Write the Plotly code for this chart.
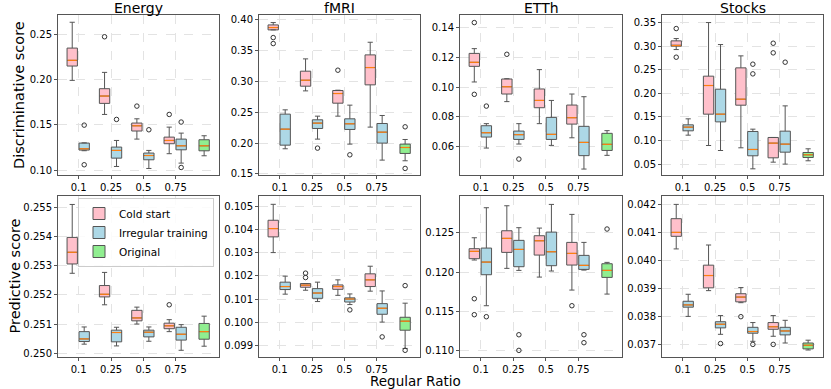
"""Box plots of discriminative / predictive scores vs. regular ratio."""

import plotly.graph_objects as go
from plotly.subplots import make_subplots

# ---- data (box stats: lower whisker, q1, median, q3, upper whisker) ----
ratios = ["0.1", "0.25", "0.5", "0.75"]
datasets = ["Energy", "fMRI", "ETTh", "Stocks"]
methods = ["Cold start", "Irregular training", "Original"]

# Discriminative score
energy_disc_cold = [(0.1989, 0.2147, 0.221, 0.2345, 0.263), (0.1613, 0.1735, 0.1816, 0.1897, 0.2077),
                    (0.1341, 0.143, 0.1488, 0.1518, 0.1565), (0.118, 0.129, 0.1326, 0.1363, 0.1473)]
energy_disc_cold_out = [[], [0.247], [0.1705], [0.1613]]
energy_disc_irr = [(0.1213, 0.122, 0.1234, 0.1297, 0.130), (0.1039, 0.1131, 0.1216, 0.1253, 0.1326),
                   (0.1017, 0.1113, 0.116, 0.1187, 0.1216), (0.1076, 0.1223, 0.1267, 0.1341, 0.1407)]
energy_disc_irr_out = [[0.1495, 0.1058], [0.1558], [0.1444], [0.1529, 0.1028]]
energy_disc_orig = (0.1157, 0.1212, 0.1267, 0.1334, 0.1378)
energy_disc_orig_out = []

fmri_disc_cold = [(0.3838, 0.3838, 0.3876, 0.3919, 0.3957), (0.2847, 0.2923, 0.302, 0.3167, 0.3367),
                  (0.2436, 0.2647, 0.2804, 0.2853, 0.2858), (0.2258, 0.2945, 0.3226, 0.3432, 0.3637)]
fmri_disc_cold_out = [[0.3713, 0.3616], [], [0.3183], []]
fmri_disc_irr = [(0.1906, 0.1965, 0.2225, 0.2469, 0.2539), (0.2063, 0.2236, 0.2323, 0.2377, 0.2436),
                 (0.1982, 0.222, 0.2312, 0.2393, 0.2615), (0.1722, 0.1998, 0.2176, 0.2317, 0.2447)]
fmri_disc_irr_out = [[], [0.1917], [0.1808], []]
fmri_disc_orig = (0.1711, 0.183, 0.1927, 0.1982, 0.2057)
fmri_disc_orig_out = [0.2263, 0.1587]

etth_disc_cold = [(0.1035, 0.114, 0.1167, 0.1227, 0.1259), (0.0903, 0.0954, 0.1003, 0.1055, 0.1057),
                  (0.0755, 0.0862, 0.0911, 0.0988, 0.1118), (0.066, 0.0752, 0.0795, 0.088, 0.0954)]
etth_disc_cold_out = [[0.1434, 0.0952], [0.1221], [], []]
etth_disc_irr = [(0.0591, 0.0665, 0.0694, 0.0741, 0.0755), (0.0618, 0.0649, 0.0681, 0.0705, 0.0755),
                 (0.0609, 0.0649, 0.0683, 0.0797, 0.0911), (0.045, 0.054, 0.0629, 0.0737, 0.0936)]
etth_disc_irr_out = [[0.0873], [0.0517], [], []]
etth_disc_orig = (0.0542, 0.0575, 0.0616, 0.069, 0.0708)
etth_disc_orig_out = []

stocks_disc_cold = [(0.2928, 0.2999, 0.3013, 0.3112, 0.3161), (0.0895, 0.1559, 0.2166, 0.2364, 0.35),
                    (0.0846, 0.1749, 0.1876, 0.254, 0.2794), (0.0542, 0.0634, 0.0945, 0.1065, 0.1065)]
stocks_disc_cold_out = [[0.3373, 0.2766], [], [], [0.3062, 0.2858]]
stocks_disc_irr = [(0.1114, 0.1206, 0.1284, 0.1333, 0.146), (0.0789, 0.1396, 0.1559, 0.2088, 0.3034),
                   (0.0401, 0.0677, 0.0811, 0.1192, 0.1241), (0.05, 0.0754, 0.0924, 0.1199, 0.1735)]
stocks_disc_irr_out = [[], [], [0.2618, 0.2413], [0.266]]
stocks_disc_orig = (0.0571, 0.0641, 0.0698, 0.0747, 0.0825)
stocks_disc_orig_out = []

# Predictive score
energy_pred_cold = [(0.25274, 0.25306, 0.25346, 0.25397, 0.2551), (0.25166, 0.25193, 0.25202, 0.25232, 0.25277),
                    (0.251, 0.25111, 0.25121, 0.25147, 0.25158), (0.25074, 0.25084, 0.25094, 0.25103, 0.25115)]
energy_pred_cold_out = [[], [], [], [0.25166]]
energy_pred_irr = [(0.25031, 0.2504, 0.25049, 0.25074, 0.2509), (0.25025, 0.25039, 0.25071, 0.25079, 0.25089),
                   (0.25041, 0.25056, 0.25072, 0.25079, 0.2509), (0.2501, 0.25045, 0.25065, 0.25089, 0.25098)]
energy_pred_irr_out = [[], [], [], []]
energy_pred_orig = (0.25024, 0.25048, 0.25074, 0.25102, 0.25127)
energy_pred_orig_out = []

fmri_pred_cold = [(0.10301, 0.10369, 0.10405, 0.10441, 0.1051), (0.10138, 0.10151, 0.1016, 0.10167, 0.10167),
                  (0.10116, 0.10142, 0.10154, 0.10161, 0.10183), (0.10134, 0.10154, 0.10183, 0.10209, 0.10242)]
fmri_pred_cold_out = [[], [0.10212, 0.10193], [], []]
fmri_pred_irr = [(0.10121, 0.10141, 0.10154, 0.10173, 0.10199), (0.10089, 0.10103, 0.10126, 0.10145, 0.10173),
                 (0.10076, 0.10087, 0.101, 0.10105, 0.10122), (0.1, 0.10034, 0.1006, 0.1008, 0.10135)]
fmri_pred_irr_out = [[], [], [0.10053], [0.09936]]
fmri_pred_orig = (0.09886, 0.09965, 0.10004, 0.10021, 0.10082)
fmri_pred_orig_out = [0.10158, 0.09878]

etth_pred_cold = [(0.12153, 0.1217, 0.12263, 0.12297, 0.12436), (0.12047, 0.1225, 0.12428, 0.12525, 0.12843),
                  (0.11936, 0.12216, 0.12398, 0.12462, 0.12559), (0.11771, 0.12089, 0.12237, 0.12377, 0.12733)]
etth_pred_cold_out = [[0.11661, 0.11458], [], [], [0.11572]]
etth_pred_irr = [(0.11572, 0.11966, 0.12127, 0.12305, 0.12818), (0.12021, 0.12068, 0.12288, 0.12403, 0.12564),
                 (0.12013, 0.12081, 0.12258, 0.12508, 0.1286), (0.12025, 0.12034, 0.12085, 0.12212, 0.12377)]
etth_pred_irr_out = [[0.11432], [0.11203, 0.11004], [], [0.11203, 0.11102]]
etth_pred_orig = (0.1172, 0.11932, 0.12021, 0.12106, 0.12123)
etth_pred_orig_out = [0.12547]

stocks_pred_cold = [(0.04043, 0.04088, 0.04102, 0.04151, 0.04202), (0.03894, 0.03904, 0.03948, 0.03985, 0.04057),
                    (0.03851, 0.03854, 0.03871, 0.03883, 0.03905), (0.03731, 0.03756, 0.03765, 0.0378, 0.03805)]
stocks_pred_cold_out = [[], [], [0.03801], [0.03702]]
stocks_pred_irr = [(0.03802, 0.03835, 0.03843, 0.03856, 0.03881), (0.03738, 0.03761, 0.03774, 0.03783, 0.03805),
                   (0.03713, 0.03742, 0.03748, 0.03763, 0.0378), (0.03707, 0.03736, 0.0375, 0.03763, 0.03788)]
stocks_pred_irr_out = [[], [0.03705], [0.03702], []]
stocks_pred_orig = (0.03682, 0.03686, 0.03699, 0.03707, 0.03717)
stocks_pred_orig_out = []

# axis settings per panel: (range, tick0, dtick, format)
disc_axes = [((0.0945, 0.271), 0.10, 0.05, ".2f"), ((0.148, 0.408), 0.15, 0.05, ".2f"),
             ((0.041, 0.1485), 0.06, 0.02, ".2f"), ((0.027, 0.366), 0.05, 0.05, ".2f")]
pred_axes = [((0.24987, 0.25539), 0.250, 0.001, ".3f"), ((0.09849, 0.10546), 0.099, 0.001, ".3f"),
             ((0.1092, 0.12967), 0.110, 0.005, ".3f"), ((0.03657, 0.04232), 0.037, 0.001, ".3f")]

panels = [
    [(energy_disc_cold, energy_disc_cold_out, energy_disc_irr, energy_disc_irr_out, energy_disc_orig, energy_disc_orig_out),
     (fmri_disc_cold, fmri_disc_cold_out, fmri_disc_irr, fmri_disc_irr_out, fmri_disc_orig, fmri_disc_orig_out),
     (etth_disc_cold, etth_disc_cold_out, etth_disc_irr, etth_disc_irr_out, etth_disc_orig, etth_disc_orig_out),
     (stocks_disc_cold, stocks_disc_cold_out, stocks_disc_irr, stocks_disc_irr_out, stocks_disc_orig, stocks_disc_orig_out)],
    [(energy_pred_cold, energy_pred_cold_out, energy_pred_irr, energy_pred_irr_out, energy_pred_orig, energy_pred_orig_out),
     (fmri_pred_cold, fmri_pred_cold_out, fmri_pred_irr, fmri_pred_irr_out, fmri_pred_orig, fmri_pred_orig_out),
     (etth_pred_cold, etth_pred_cold_out, etth_pred_irr, etth_pred_irr_out, etth_pred_orig, etth_pred_orig_out),
     (stocks_pred_cold, stocks_pred_cold_out, stocks_pred_irr, stocks_pred_irr_out, stocks_pred_orig, stocks_pred_orig_out)],
]

colors = ["#FFC0CB", "#ADD8E6", "#90EE90"]
EDGE = "#555555"
MEDIAN = "#FF7F0E"
BOX_W = 0.32
W, H = 831, 389

# panel frames in pixels
col_px = [(58, 219), (259, 420), (460, 622), (662, 823)]
row_px = [(15, 175), (196, 357)]


def add_group(fig, stats, outs, pos, color, name, showlegend, row, col):
    """One box trace (several boxes), medians and outliers."""
    fig.add_trace(
        go.Box(
            x=pos,
            lowerfence=[s[0] for s in stats],
            q1=[s[1] for s in stats],
            median=[s[2] for s in stats],
            q3=[s[3] for s in stats],
            upperfence=[s[4] for s in stats],
            width=BOX_W,
            whiskerwidth=0.5,
            fillcolor=color,
            line=dict(color=EDGE, width=1),
            name=name,
            legendgroup=name,
            showlegend=showlegend,
            boxpoints=False,
        ),
        row=row,
        col=col,
    )
    mx, my = [], []
    for p, s in zip(pos, stats):
        mx += [p - BOX_W / 2 + 0.02, p + BOX_W / 2 - 0.02, None]
        my += [s[2], s[2], None]
    fig.add_trace(
        go.Scatter(x=mx, y=my, mode="lines", line=dict(color=MEDIAN, width=1.2),
                   showlegend=False, hoverinfo="skip"),
        row=row, col=col,
    )
    ox, oy = [], []
    for p, o in zip(pos, outs):
        ox += [p] * len(o)
        oy += o
    if ox:
        fig.add_trace(
            go.Scatter(x=ox, y=oy, mode="markers",
                       marker=dict(symbol="circle-open", size=4.5, color="#333333", line=dict(width=1)),
                       showlegend=False, hoverinfo="skip"),
            row=row, col=col,
        )


fig = make_subplots(rows=2, cols=4)

ticks = list(range(1, len(ratios) + 1))
for r in range(2):
    for c in range(4):
        cold, cold_out, irr, irr_out, orig, orig_out = panels[r][c]
        first = r == 1 and c == 0
        add_group(fig, cold, cold_out, [t - 0.2 for t in ticks], colors[0], methods[0], first, r + 1, c + 1)
        add_group(fig, irr, irr_out, [t + 0.17 for t in ticks], colors[1], methods[1], first, r + 1, c + 1)
        add_group(fig, [orig], [orig_out], [len(ratios) + 0.88], colors[2], methods[2], first, r + 1, c + 1)

        rng, t0, dt, fmt = (disc_axes if r == 0 else pred_axes)[c]
        x0, x1 = col_px[c]
        y0, y1 = row_px[r]
        fig.update_xaxes(
            domain=[x0 / W, x1 / W], range=[0.36, 5.34],
            tickvals=ticks, ticktext=ratios,
            showline=True, mirror=True, linecolor=EDGE, linewidth=1,
            ticks="outside", ticklen=3, tickcolor=EDGE,
            showgrid=True, gridcolor="#E3E3E3", griddash="dash", gridwidth=0.8,
            zeroline=False, tickfont=dict(size=10, color="black"),
            automargin=False,
            row=r + 1, col=c + 1,
        )
        fig.update_yaxes(
            domain=[1 - y1 / H, 1 - y0 / H], range=list(rng),
            tick0=t0, dtick=dt, tickformat=fmt,
            showline=True, mirror=True, linecolor=EDGE, linewidth=1,
            ticks="outside", ticklen=3, tickcolor=EDGE,
            showgrid=True, gridcolor="#E3E3E3", griddash="dash", gridwidth=0.8,
            zeroline=False, tickfont=dict(size=10, color="black"),
            automargin=False,
            row=r + 1, col=c + 1,
        )

annotations = []
for c, name in enumerate(datasets):
    xref = "x domain" if c == 0 else f"x{c + 1} domain"
    yref = "y domain" if c == 0 else f"y{c + 1} domain"
    annotations.append(dict(text=name, x=0.5, y=1.0, xref=xref, yref=yref, xanchor="center",
                            yanchor="middle", yshift=7, showarrow=False, font=dict(size=14, color="black")))
annotations.append(dict(text="Discriminative score", x=19 / W, y=0.5, xref="paper", yref="y domain",
                        xanchor="center", yanchor="middle",
                        textangle=-90, showarrow=False, font=dict(size=14.5, color="black")))
annotations.append(dict(text="Predictive score", x=14 / W, y=0.5, xref="paper", yref="y5 domain",
                        xanchor="center", yanchor="middle",
                        textangle=-90, showarrow=False, font=dict(size=14.5, color="black")))
annotations.append(dict(text="Regular Ratio", x=415 / W, y=1 - 381 / H, xref="paper", yref="paper",
                        xanchor="center", yanchor="middle", borderpad=0,
                        showarrow=False, font=dict(size=13.5, color="black")))

fig.update_layout(
    width=W,
    height=H,
    margin=dict(l=0, r=0, t=0, b=0, autoexpand=False),
    plot_bgcolor="white",
    paper_bgcolor="white",
    font=dict(family="DejaVu Sans", color="black"),
    annotations=annotations,
    boxmode="overlay",
    legend=dict(
        x=78 / W, y=1 - 198 / H, xanchor="left", yanchor="top",
        bgcolor="rgba(255,255,255,0.85)", bordercolor="#CCCCCC", borderwidth=1,
        font=dict(size=10.5), tracegroupgap=0, itemwidth=30,
    ),
)

# drop the browser's default body margin so the figure sits at the window origin
fig.write_html(
    "out.html",
    config={"displayModeBar": False},
    post_script="document.body.style.margin = '0px';",
)
